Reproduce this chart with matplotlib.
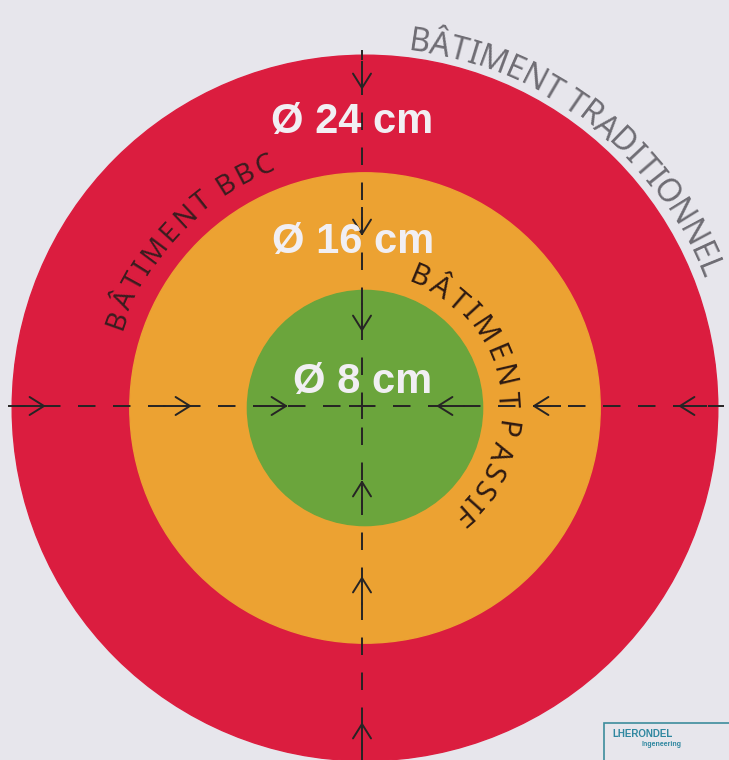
import numpy as np
import matplotlib
matplotlib.use('Agg')
import matplotlib.pyplot as plt
import matplotlib.patches as mpatches
from matplotlib.font_manager import FontProperties
from matplotlib.textpath import text_to_path

# ring data (outer to inner)
diameters_cm = [24, 16, 8]
ring_colors = ['#db1d3f', '#eca232', '#6ba53c']
size_labels = ['Ø 24 cm', 'Ø 16 cm', 'Ø 8 cm']
ring_names = ['BÂTIMENT TRADITIONNEL', 'BÂTIMENT BBC', 'BÂTIMENT PASSIF']
name_colors = ['#6f6d74', '#3a1c1f', '#2e1a12']

W, H = 729, 760
cx, cy = 365, 352          # centre of the target (pixels, y up)
px_per_cm = 14.7           # radius in px for 1 cm of diameter

LABEL_FAMILY = ['Liberation Sans', 'DejaVu Sans']
ARC_FAMILY = ['Noto Sans', 'Liberation Sans', 'DejaVu Sans']


def curved_text(ax, s, radius, a_start, a_end, size, color):
    # spread the characters of s along an arc, tops outward, clockwise
    fp = FontProperties(family=ARC_FAMILY, size=size)
    widths = []
    for ch in s:
        if ch == ' ':
            widths.append(0.3 * size)
        else:
            w, h, d = text_to_path.get_text_width_height_descent(ch, fp, ismath=False)
            widths.append(w + 0.12 * size)
    widths = np.array(widths)
    centers = np.cumsum(widths) - widths / 2
    centers = (centers - centers[0]) / (centers[-1] - centers[0])
    angles = a_start + (a_end - a_start) * centers
    for ch, a in zip(s, angles):
        if ch == ' ':
            continue
        t = np.radians(a)
        ax.text(cx + radius * np.cos(t), cy + radius * np.sin(t), ch,
                rotation=a - 90, rotation_mode='anchor', ha='center', va='center',
                fontproperties=fp, color=color, zorder=5)


def chevron(ax, dist, direction):
    # open arrow head pointing at the centre, tip at `dist` from the centre
    u = np.array(direction, dtype=float)
    p = np.array([cx - 3, cy + 2]) + u * dist
    perp = np.array([-u[1], u[0]])
    L, ang = 17, np.radians(32)
    for sgn in (1, -1):
        q = p + L * (u * np.cos(ang) + sgn * perp * np.sin(ang))
        ax.plot([p[0], q[0]], [p[1], q[1]], color='#262424', lw=1.4, solid_capstyle='round')
    q = p + u * 26
    ax.plot([p[0], q[0]], [p[1], q[1]], color='#262424', lw=1.4)


fig = plt.figure(figsize=(W / 100, H / 100), dpi=100)
fig.patch.set_facecolor('#e7e6ec')
ax = fig.add_axes([0, 0, 1, 1])
ax.set_xlim(0, W)
ax.set_ylim(0, H)
ax.axis('off')

# rings
for d, c in zip(diameters_cm, ring_colors):
    ax.add_patch(mpatches.Circle((cx, cy), d * px_per_cm, color=c, zorder=1))

# dashed cross
ax.plot([cx - 3, cx - 3], [0, 710], color='#262424', lw=1.4, ls=(0, (9, 9)), zorder=2)
ax.plot([8, 724], [cy + 2, cy + 2], color='#262424', lw=1.4, ls=(0, (9, 9)), zorder=2)
ax.plot([cx - 15, cx + 9], [cy + 2, cy + 2], color='#262424', lw=1.4, zorder=2)
ax.plot([cx - 3, cx - 3], [cy - 10, cy + 14], color='#262424', lw=1.4, zorder=2)

arrow_dist = [318, 172, 76]
for dist in arrow_dist:
    for u in [(0, 1), (0, -1), (1, 0), (-1, 0)]:
        chevron(ax, dist, u)

# size labels
label_dy = [286, 166, 26]
label_dx = [-13, -12, -2]
for lab, dy, dx in zip(size_labels, label_dy, label_dx):
    ax.text(cx + dx, cy + dy, lab, ha='center', va='center', color='#f1eff3',
            fontsize=30, fontweight='bold', family=LABEL_FAMILY, zorder=4)

# ring names along the arcs
curved_text(ax, ring_names[0], 369, 81.5, 22, 23, name_colors[0])
curved_text(ax, ring_names[1], 262, 160.5, 112.5, 20, name_colors[1])
curved_text(ax, ring_names[2], 141, 67.5, -48.5, 21, name_colors[2])

# small logo, bottom right
ax.add_patch(mpatches.Rectangle((604, -5), 140, 42, fill=False, ec='#3d8d9c', lw=1.2))
ax.text(612, 26, 'LHERONDEL', color='#2f87a0', fontsize=7, fontweight='bold',
        family=LABEL_FAMILY, ha='left', va='center')
ax.text(682, 16, 'Ingeneering', color='#2f87a0', fontsize=5, fontweight='bold',
        family=LABEL_FAMILY, ha='right', va='center')

fig.savefig('out.png', dpi=100, facecolor=fig.get_facecolor())
